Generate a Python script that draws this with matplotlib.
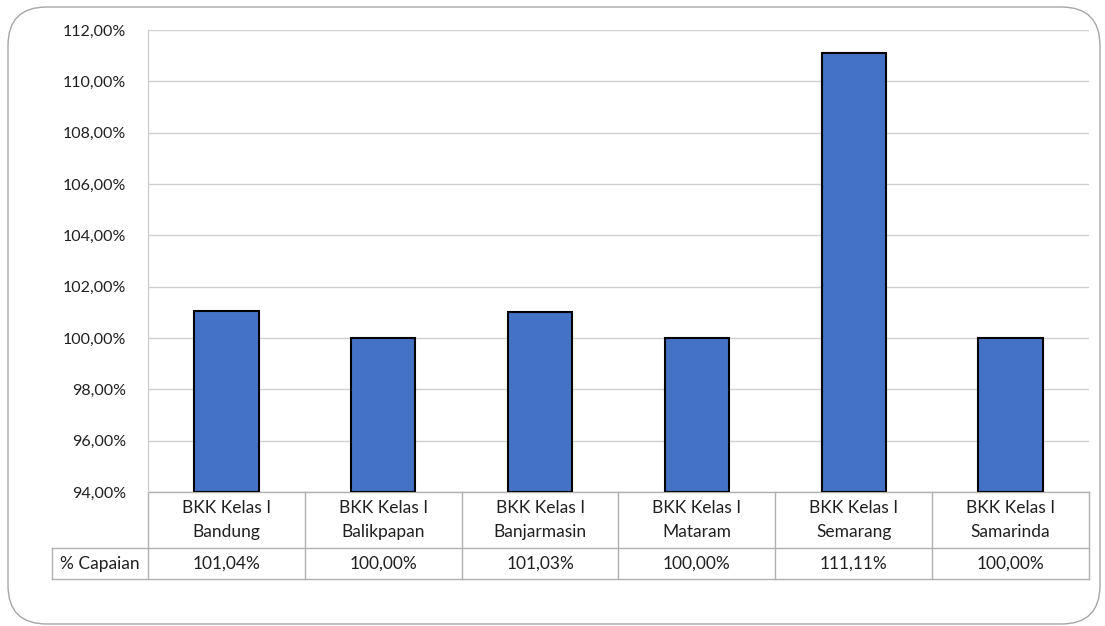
import numpy as np
import matplotlib
matplotlib.use("Agg")
import matplotlib.pyplot as plt
from matplotlib.patches import FancyBboxPatch
import matplotlib.transforms as mtransforms

plt.rcParams['font.family'] = ['Lato', 'DejaVu Sans']

# data
categories = ["BKK Kelas I\nBandung", "BKK Kelas I\nBalikpapan", "BKK Kelas I\nBanjarmasin",
              "BKK Kelas I\nMataram", "BKK Kelas I\nSemarang", "BKK Kelas I\nSamarinda"]
capaian = [101.04, 100.00, 101.03, 100.00, 111.11, 100.00]
row_label = "% Capaian"
y_ticks = [94, 96, 98, 100, 102, 104, 106, 108, 110, 112]

W, H = 1105, 626
fig = plt.figure(figsize=(W / 100, H / 100), dpi=100)

# rounded outer frame
frame = FancyBboxPatch((8 / W, 1 - 624 / H), 1092 / W, 617 / H,
                       boxstyle="round,pad=0,rounding_size=0.035",
                       transform=fig.transFigure, facecolor="none",
                       edgecolor="#a6a6a6", lw=1.0, mutation_aspect=W / H, zorder=-5)
fig.patches.append(frame)

left, right, top, bottom = 148, 1089, 30, 492
ax = fig.add_axes([left / W, 1 - bottom / H, (right - left) / W, (bottom - top) / H])
ax.set_facecolor("none")

x = np.arange(len(categories))
base = y_ticks[0]
ax.bar(x, np.array(capaian) - base, bottom=base, width=0.41,
       color="#4472C4", edgecolor="black", linewidth=1.5, zorder=3)

ax.set_xlim(-0.5, len(categories) - 0.5)
ax.set_ylim(y_ticks[0], y_ticks[-1])
ax.set_yticks(y_ticks)
ax.set_yticklabels([f"{v:.2f}%".replace(".", ",") for v in y_ticks], fontsize=11.5, color="#202020")
ax.set_xticks([])
ax.tick_params(axis="y", length=0, pad=16)
ax.yaxis.grid(True, color="#d0d0d0", lw=1.0, zorder=0)
for s in ["top", "right", "bottom"]:
    ax.spines[s].set_visible(False)
ax.spines["left"].set_color("#c8c8c8")

# data table below the axes
ph = bottom - top
r1 = -(548 - bottom) / ph
r2 = -(579 - bottom) / ph
x0 = -(left - 52) / (right - left)
trans = mtransforms.blended_transform_factory(ax.transData, ax.transAxes)
lc = "#b0b0b0"
kw = dict(color=lc, lw=1.0, clip_on=False)
ax.plot([-0.5, len(categories) - 0.5], [0, 0], transform=trans, **kw)
ax.plot([-0.5, len(categories) - 0.5], [r1, r1], transform=trans, **kw)
ax.plot([-0.5, len(categories) - 0.5], [r2, r2], transform=trans, **kw)
for b in np.arange(len(categories) + 1) - 0.5:
    ax.plot([b, b], [0, r2], transform=trans, **kw)
ax.plot([x0, 0], [r1, r1], transform=ax.transAxes, **kw)
ax.plot([x0, 0], [r2, r2], transform=ax.transAxes, **kw)
ax.plot([x0, x0], [r1, r2], transform=ax.transAxes, **kw)

fs = 12.5
for i, (c, v) in enumerate(zip(categories, capaian)):
    ax.text(i, r1 / 2, c, transform=trans, ha="center", va="center",
            fontsize=fs, color="#202020", linespacing=1.65)
    ax.text(i, (r1 + r2) / 2, f"{v:.2f}%".replace(".", ","), transform=trans,
            ha="center", va="center", fontsize=fs, color="#202020")
ax.text((x0) / 2, (r1 + r2) / 2, row_label, transform=ax.transAxes,
        ha="center", va="center", fontsize=fs, color="#202020")

fig.savefig("out.png", dpi=100)
